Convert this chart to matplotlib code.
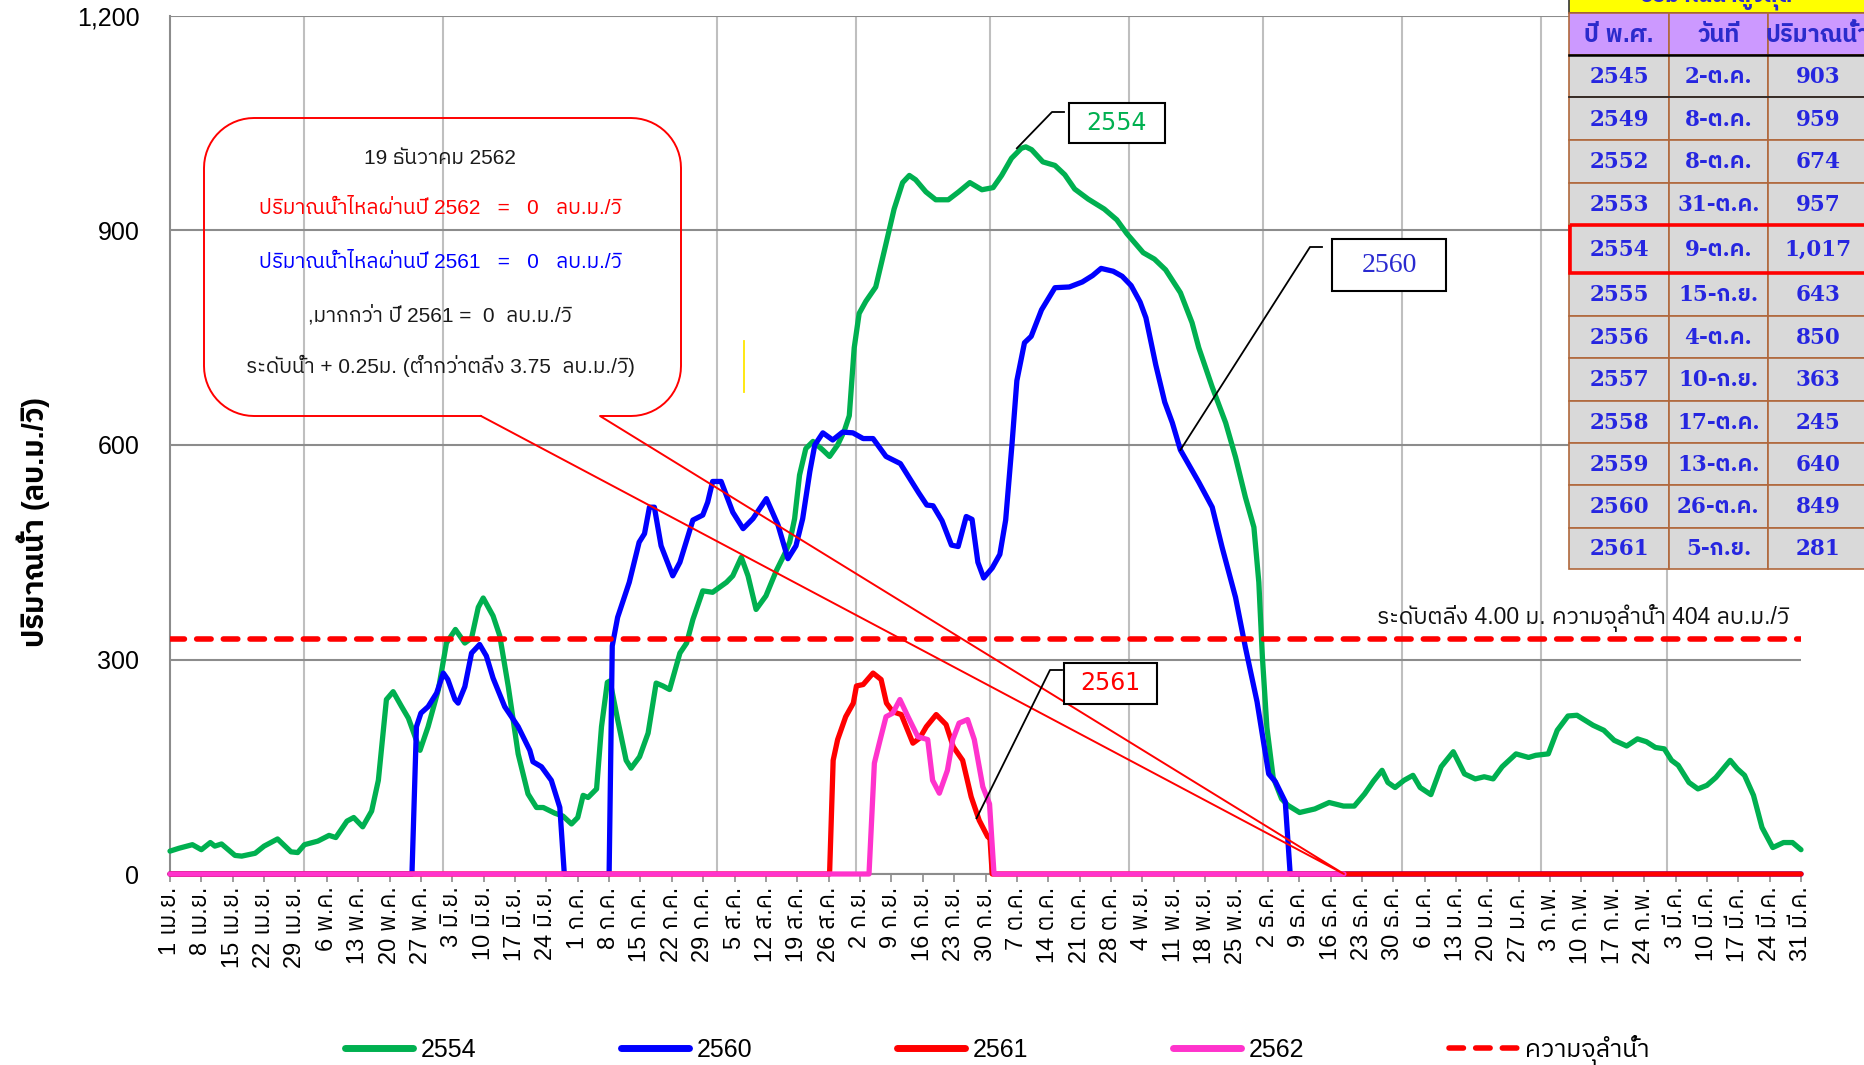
"""
Daily discharge (ปริมาณน้ำ) for water years 2554, 2560, 2561, 2562,
with bank-full capacity line, callout and the yearly maximum table.
"""
import matplotlib
matplotlib.use("Agg")
import matplotlib.pyplot as plt
import matplotlib.transforms as mtransforms
from matplotlib import font_manager
from matplotlib.ft2font import FT2Font
from matplotlib.lines import Line2D
from matplotlib.patches import Rectangle
import numpy as np

W, H = 1864, 1065

# ---------------- data ----------------
x_labels = ["1 เม.ย.", "8 เม.ย.", "15 เม.ย.", "22 เม.ย.", "29 เม.ย.", "6 พ.ค.", "13 พ.ค.",
            "20 พ.ค.", "27 พ.ค.", "3 มิ.ย.", "10 มิ.ย.", "17 มิ.ย.", "24 มิ.ย.", "1 ก.ค.",
            "8 ก.ค.", "15 ก.ค.", "22 ก.ค.", "29 ก.ค.", "5 ส.ค.", "12 ส.ค.", "19 ส.ค.",
            "26 ส.ค.", "2 ก.ย.", "9 ก.ย.", "16 ก.ย.", "23 ก.ย.", "30 ก.ย.", "7 ต.ค.",
            "14 ต.ค.", "21 ต.ค.", "28 ต.ค.", "4 พ.ย.", "11 พ.ย.", "18 พ.ย.", "25 พ.ย.",
            "2 ธ.ค.", "9 ธ.ค.", "16 ธ.ค.", "23 ธ.ค.", "30 ธ.ค.", "6 ม.ค.", "13 ม.ค.",
            "20 ม.ค.", "27 ม.ค.", "3 ก.พ.", "10 ก.พ.", "17 ก.พ.", "24 ก.พ.", "3 มี.ค.",
            "10 มี.ค.", "17 มี.ค.", "24 มี.ค.", "31 มี.ค."]
month_starts = [30, 61, 91, 122, 153, 183, 214, 244, 275, 306, 334]
y_ticks = [0, 300, 600, 900, 1200]
y_tick_labels = ["0", "300", "600", "900", "1,200"]

# day 0 = 1 April
days_2554 = [0, 2, 5, 7, 9, 10, 11.5, 14.5, 16, 19, 21, 24, 27, 28.5, 30, 33, 35.5, 37, 39.5, 41,
             43, 45, 46.5, 48.3, 49.8, 51.7, 53.2, 55.8, 57.6, 59.9, 61.7, 63.7, 65.8, 67.3, 68.8,
             69.9, 72.1, 73.6, 75.5, 77.7, 79.9, 81.8, 83.3, 85.9, 87.7, 89.6, 91, 92.2, 93.3, 95.2,
             96.3, 97.6, 98.2, 99.9, 101.8, 102.9, 104.8, 106.7, 108.5, 110, 111.5, 113.8, 115.3,
             116.7, 118.9, 121.1, 124.2, 125.6, 127.5, 129, 130.8, 133, 135.3, 137.2, 138.3, 139.4,
             140.5, 141.9, 143.5, 145.7, 147.2, 149, 150.5, 151.6, 152.7, 153.8, 155.3, 157.5,
             159.7, 161.6, 163.5, 165, 166.4, 168.7, 170.9, 173.7, 176, 178.5, 181.2, 183.7, 185.6,
             187.8, 190, 191, 192.3, 194.8, 197.5, 199.7, 201.9, 204.9, 208.5, 211.3, 213.5, 217.2,
             219.7, 222.2, 225.5, 228.1, 229.6, 232.6, 235.6, 237.8, 240, 241.9, 243, 243.8, 244.8,
             246.2, 248.1, 249.5, 252.1, 255.5, 258.7, 261.9, 264.3, 266.6, 268.6, 270.5, 271.8,
             273.4, 275.4, 277.4, 279, 281.4, 283.7, 286.4, 288.9, 291.3, 293.3, 295.3, 297.3,
             300.4, 303.2, 304.8, 307.6, 309.6, 312, 314, 317.6, 320, 322.3, 325.1, 327.5, 329.5,
             331.5, 333.5, 335.1, 336.6, 339, 341, 343, 345, 348.2, 349.8, 351.4, 353.4, 355.3,
             357.7, 360.1, 362.1, 364]
flow_2554 = [32, 36, 41, 34, 44, 39, 42, 26, 25, 29, 39, 49, 31, 30, 41, 46, 54, 51, 74, 79,
             66, 88, 131, 244, 255, 234, 218, 173, 206, 258, 323, 342, 323, 330, 373, 386, 361,
             333, 262, 168, 112, 93, 93, 85, 81, 70, 79, 110, 107, 119, 206, 268, 270, 216, 159,
             148, 164, 197, 267, 263, 258, 309, 323, 356, 396, 394, 408, 417, 443, 417, 370, 389,
             424, 448, 464, 497, 558, 595, 605, 593, 584, 600, 620, 641, 736, 784, 801, 821, 879,
             930, 967, 977, 971, 954, 943, 943, 954, 967, 957, 960, 977, 1001, 1015, 1017, 1013,
             996, 991, 978, 958, 944, 930, 915, 896, 869, 860, 845, 813, 771, 736, 681, 631, 583,
             527, 485, 408, 303, 205, 135, 105, 96, 86, 91, 100, 95, 95, 112, 130, 145, 128, 121,
             131, 138, 121, 111, 150, 171, 140, 133, 136, 133, 150, 168, 163, 166, 168, 201, 221,
             222, 208, 201, 187, 179, 189, 185, 177, 175, 159, 152, 128, 119, 124, 135, 159, 147,
             138, 110, 65, 37, 44, 44, 34]

days_2560 = [0, 54, 55, 56, 57.6, 59.5, 61, 62, 63.6, 64.3, 65.8, 67.3, 69.1, 70.6, 72.1, 74.7,
             77.7, 80.3, 81, 82.9, 85.1, 87, 88, 98, 98.7, 99.9, 102.5, 104.7, 105.9, 107, 108.1,
             109.6, 112.2, 113.8, 116.7, 118.9, 120, 121.1, 123, 125.6, 127.9, 130.1, 133.1, 135.7,
             137.9, 139.7, 141.2, 142.8, 143.9, 145.7, 147.9, 150.1, 152.4, 154.7, 156.9, 159.8,
             163, 165.2, 167.1, 168.9, 170.3, 172.3, 174.4, 175.9, 177.7, 179, 180.3, 181.6, 183.5,
             185.2, 186.5, 187.9, 189, 190.7, 192.2, 194.5, 197.5, 200.7, 203.6, 205.9, 207.8,
             210.5, 212.5, 214.5, 216.5, 217.8, 220, 222, 223.7, 225.5, 229.6, 232.6, 234.8, 237.8,
             240, 242.6, 245.2, 246.7, 248.9, 250, 364]
flow_2560 = [0, 0, 206, 225, 234, 253, 281, 272, 244, 239, 262, 309, 321, 305, 274, 234, 206, 173,
             157, 150, 131, 93, 0, 0, 319, 359, 408, 464, 476, 513, 513, 459, 417, 436, 495, 502,
             520, 549, 549, 506, 483, 497, 525, 488, 441, 459, 497, 563, 600, 617, 607, 618, 617,
             609, 609, 584, 574, 552, 533, 516, 515, 494, 460, 458, 500, 496, 436, 414, 428, 447,
             495, 600, 690, 743, 752, 789, 820, 821, 828, 837, 847, 843, 836, 823, 800, 778, 712,
             660, 631, 593, 548, 513, 457, 387, 317, 241, 140, 129, 101, 0, 0]

days_2561 = [0, 147.2, 148, 149, 150.8, 152.5, 153.2, 154.7, 156.9, 158.7, 159.9, 161.3, 163.2,
             165.8, 167.3, 168.8, 171, 173.2, 174.8, 176.9, 178.8, 180.6, 182.5, 183, 183.5, 364]
flow_2561 = [0, 0, 159, 188, 220, 239, 263, 265, 281, 272, 239, 227, 223, 183, 190, 206, 223, 209,
             178, 159, 108, 75, 52, 50, 0, 0]

days_2562 = [0, 156, 157.2, 158.3, 159.8, 161.3, 162.9, 164.7, 166.9, 169.1, 170.2, 171.7, 173.5,
             174.7, 176.1, 178, 179.5, 181.4, 182.9, 183.9, 262]
flow_2562 = [0, 0, 155, 183, 220, 225, 244, 220, 192, 188, 131, 113, 145, 188, 211, 216, 188, 122,
             98, 0, 0]

capacity_level = 328
report_day = 262  # 19 ธ.ค.

table_years = ["2545", "2549", "2552", "2553", "2554", "2555", "2556", "2557", "2558", "2559",
               "2560", "2561"]
table_dates = ["2-ต.ค.", "8-ต.ค.", "8-ต.ค.", "31-ต.ค.", "9-ต.ค.", "15-ก.ย.", "4-ต.ค.", "10-ก.ย.",
               "17-ต.ค.", "13-ต.ค.", "26-ต.ค.", "5-ก.ย."]
table_flows = ["903", "959", "674", "957", "1,017", "643", "850", "363", "245", "640", "849",
               "281"]


# ---------------- fonts ----------------
def thai_family():
    names = set()
    for f in font_manager.fontManager.ttflist:
        try:
            if FT2Font(f.fname).get_char_index(0x0E01):
                names.add(f.name)
        except Exception:
            pass
    names = sorted(names, key=lambda n: ("Sans" not in n, "Looped" in n, n))
    return names[0] if names else None


THAI = thai_family()
INSTALLED = {f.name for f in font_manager.fontManager.ttflist}


def fam(*names):
    out = [n for n in names if n in INSTALLED]
    if THAI:
        out.append(THAI)
    out.append("DejaVu Sans")
    return out


plt.rcParams["font.family"] = fam("Liberation Sans")

# ---------------- figure ----------------
fig = plt.figure(figsize=(W / 100, H / 100), dpi=100, facecolor="white")
ax = fig.add_axes([170 / W, 1 - 874 / H, 1631 / W, (874 - 16) / H])
PX = mtransforms.Affine2D().scale(1 / W, -1 / H).translate(0, 1) + fig.transFigure

colors = {"2554": "#00b050", "2560": "#0000ff", "2561": "#ff0000", "2562": "#ff33cc"}
series = [("2554", days_2554, flow_2554), ("2560", days_2560, flow_2560),
          ("2561", days_2561, flow_2561), ("2562", days_2562, flow_2562)]
handles = []
for name, d, v in series:
    ln, = ax.plot(d, v, color=colors[name], lw=3.8, label=name, clip_on=False,
                  solid_joinstyle="round", solid_capstyle="round", zorder=3)
    handles.append(ln)
cap = ax.axhline(capacity_level, color="#ff0000", lw=4, ls=(0, (2.6, 2.2)),
                 dash_capstyle="round", zorder=4, label="ความจุลำน้ำ")
handles.append(cap)

ax.set_xlim(0, 364)
ax.set_ylim(0, 1200)
ax.set_xticks(np.arange(len(x_labels)) * 7)
ax.set_xticklabels(x_labels, rotation=90, fontsize=17)
ax.set_xticks(month_starts, minor=True)
ax.tick_params(axis="x", which="major", direction="out", length=6, width=1.2,
               color="#8c8c8c", pad=3)
ax.tick_params(axis="x", which="minor", length=0)
ax.set_yticks(y_ticks)
ax.set_yticklabels(y_tick_labels, fontsize=18)
ax.tick_params(axis="y", length=0, pad=22)
ax.grid(True, which="minor", axis="x", color="#bfbfbf", lw=1.5)
ax.grid(True, which="major", axis="y", color="#8c8c8c", lw=1.5)
ax.grid(False, which="major", axis="x")
ax.set_axisbelow(True)
for s in ["top", "right"]:
    ax.spines[s].set_visible(False)
for s in ["left", "bottom"]:
    ax.spines[s].set_color("#8c8c8c")
    ax.spines[s].set_linewidth(1.5)
ax.set_ylabel("ปริมาณน้ำ (ลบ.ม./วิ)", fontsize=21, fontweight="bold")
ax.yaxis.label.set_va("center")
ax.yaxis.set_label_coords(-0.084, 0.41)

fig.text(1789, 618, "ระดับตลิ่ง 4.00 ม. ความจุลำน้ำ 404 ลบ.ม./วิ", transform=PX,
         ha="right", va="center", fontsize=16.5, color="#111111")


def to_px(x, y):
    fx, fy = fig.transFigure.inverted().transform(ax.transData.transform((x, y)))
    return fx * W, (1 - fy) * H


# ---------------- callout ----------------
def callout_outline(x0, y0, x1, y1, r, bl, br, tip):
    xs, ys = [bl, tip[0], br], [y1, tip[1], y1]
    for cx, cy, a0, a1 in [(x1 - r, y1 - r, 90, 0), (x1 - r, y0 + r, 0, -90),
                           (x0 + r, y0 + r, -90, -180), (x0 + r, y1 - r, 180, 90)]:
        t = np.radians(np.linspace(a0, a1, 16))
        xs += list(cx + r * np.cos(t))
        ys += list(cy + r * np.sin(t))
    xs.append(bl)
    ys.append(y1)
    return xs, ys


tip = to_px(report_day, 0)
bx, by = callout_outline(204, 118, 681, 416, 50, 481, 600, tip)
fig.add_artist(Line2D(bx, by, transform=PX, color="#ff0000", lw=1.4, zorder=5))

callout_lines = [
    ("19 ธันวาคม 2562", "#1a1a1a", 158),
    ("ปริมาณน้ำไหลผ่านปี 2562   =   0   ลบ.ม./วิ", "#ff0000", 208),
    ("ปริมาณน้ำไหลผ่านปี 2561   =   0   ลบ.ม./วิ", "#0000ff", 262),
    (",มากกว่า ปี 2561 =  0  ลบ.ม./วิ", "#1a1a1a", 315),
    ("ระดับน้ำ + 0.25ม. (ต่ำกว่าตลิ่ง 3.75  ลบ.ม./วิ)", "#1a1a1a", 366),
]
for s, c, yy in callout_lines:
    fig.text(440, yy, s, transform=PX, ha="center", va="center", fontsize=15, color=c)

fig.add_artist(Line2D([744, 744], [341, 392], transform=PX, color="#ffe600", lw=1.3))


# ---------------- series labels ----------------
def label_box(text, x0, y0, x1, y1, color, family, size, anchor, elbow):
    fig.add_artist(Rectangle((x0, y0), x1 - x0, y1 - y0, transform=PX, facecolor="white",
                             edgecolor="black", lw=1.5, zorder=6))
    fig.text((x0 + x1) / 2, (y0 + y1) / 2, text, transform=PX, ha="center", va="center",
             color=color, fontsize=size, family=family, zorder=7)
    px0, py0 = to_px(*anchor)
    fig.add_artist(Line2D([px0, elbow[0], elbow[0] + 12], [py0, elbow[1], elbow[1]],
                          transform=PX, color="black", lw=1.3, zorder=6))


label_box("2554", 1069, 103, 1165, 143, "#00b050", fam("DejaVu Sans"), 17, (189, 1015),
          (1052, 112))
label_box("2560", 1332, 239, 1446, 291, "#2a2ad0", fam("Liberation Serif"), 20, (225.5, 593),
          (1310, 247))
label_box("2561", 1064, 663, 1157, 704, "#ff0000", fam("DejaVu Sans"), 17, (180, 78),
          (1050, 670))

# ---------------- max table ----------------
col_edges = [1569, 1669, 1768, 1868]
row_edges = [55, 97.4, 140, 182.6, 225, 273, 315.5, 358, 400.7, 443.3, 485, 527.8, 569]
brown = "#b0683c"
fig.add_artist(Rectangle((1569, -30), 400, 43, transform=PX, facecolor="#ffff00",
                         edgecolor="#333333", lw=1.2, zorder=8))
fig.text(1716, -4, "ปริมาณน้ำสูงสุด", transform=PX, ha="center", va="center", fontsize=16,
         fontweight="bold", color="#2b2bcc", zorder=9)
headers = ["ปี พ.ศ.", "วันที่", "ปริมาณน้ำ"]
for j, head in enumerate(headers):
    x0, x1 = col_edges[j], col_edges[j + 1]
    fig.add_artist(Rectangle((x0, 13), x1 - x0, row_edges[0] - 13, transform=PX,
                             facecolor="#cc99ff", edgecolor=brown, lw=1.2, zorder=8))
    fig.text((x0 + x1) / 2, 35, head, transform=PX, ha="center", va="center", fontsize=17,
             fontweight="bold", color="#2b2bcc", zorder=9)
for i in range(len(table_years)):
    y0, y1 = row_edges[i], row_edges[i + 1]
    for j, val in enumerate([table_years[i], table_dates[i], table_flows[i]]):
        x0, x1 = col_edges[j], col_edges[j + 1]
        fig.add_artist(Rectangle((x0, y0), x1 - x0, y1 - y0, transform=PX,
                                 facecolor="#d9d9d9", edgecolor=brown, lw=1.2, zorder=8))
        fig.text((x0 + x1) / 2, (y0 + y1) / 2 + 1, val, transform=PX, ha="center",
                 va="center", fontsize=15.5, fontweight="bold", color="#2626e0",
                 family=fam("DejaVu Serif"), zorder=9)
fig.add_artist(Line2D([1569, 1900], [row_edges[0]] * 2, transform=PX, color="black", lw=1.8,
                      zorder=9))
fig.add_artist(Line2D([1569, 1900], [row_edges[1]] * 2, transform=PX, color="#222222", lw=1.2,
                      zorder=9))
hi = table_years.index("2554")
fig.add_artist(Rectangle((1570, row_edges[hi]), 330, row_edges[hi + 1] - row_edges[hi],
                         transform=PX, fill=False, edgecolor="#ff0000", lw=2.6, zorder=10))

# ---------------- legend ----------------
narrow = "Liberation Sans Narrow" in INSTALLED
leg = fig.legend(handles, [h.get_label() for h in handles], loc="center left",
                 bbox_to_anchor=(345 / W, 1 - 1050 / H), ncol=5, frameon=False,
                 prop={"family": fam("Liberation Sans Narrow" if narrow else "Liberation Sans"),
                       "size": 21 if narrow else 18},
                 handlelength=2.72 if not narrow else 2.33, handletextpad=0.3,
                 columnspacing=5.8 if not narrow else 5.4, borderpad=0, borderaxespad=0)
for ln in leg.get_lines()[:4]:
    ln.set_linewidth(5)
    ln.set_solid_capstyle("round")

fig.savefig("out.png", dpi=100, facecolor="white")
